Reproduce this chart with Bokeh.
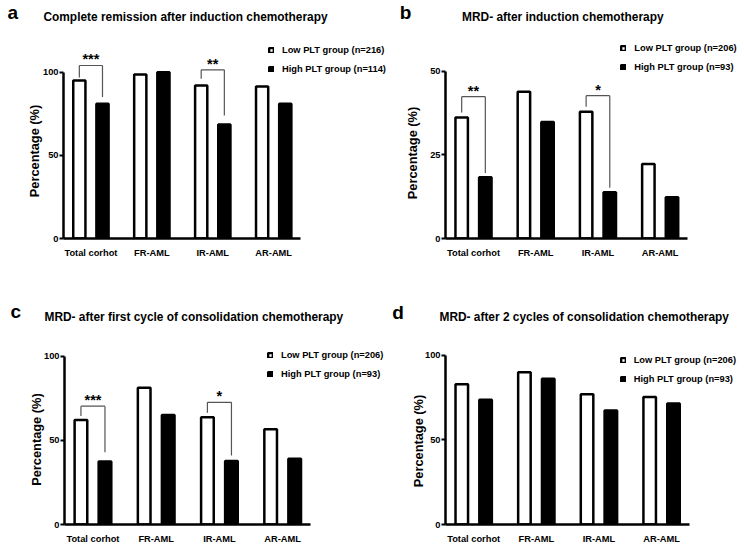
from bokeh.plotting import figure
from bokeh.models import ColumnDataSource, Label, Legend, LegendItem, FixedTicker, Title
from bokeh.transform import dodge
from bokeh.layouts import column, row
from bokeh.core.properties import value
from bokeh.embed import file_html
from bokeh.resources import INLINE

# ---- data ----
categories = ["Total corhot", "FR-AML", "IR-AML", "AR-AML"]

cr_low = [95.0, 98.6, 92.0, 91.4]
cr_high = [81.0, 100.0, 68.6, 81.0]

mrd_ind_low = [36.2, 43.9, 37.9, 22.3]
mrd_ind_high = [18.3, 34.8, 13.8, 12.3]

mrd_c1_low = [62.1, 81.3, 63.7, 56.6]
mrd_c1_high = [37.5, 65.0, 37.7, 39.1]

mrd_c2_low = [82.9, 90.1, 77.0, 75.4]
mrd_c2_high = [73.8, 86.2, 67.5, 71.6]

# significance brackets: category, bracket top, end of left leg, end of right leg, stars
sig_a_cat = ["Total corhot", "IR-AML"]
sig_a_top = [104.0, 101.4]
sig_a_low_end = [96.8, 96.0]
sig_a_high_end = [85.0, 74.0]
sig_a_stars = ["***", "**"]

sig_b_cat = ["Total corhot", "IR-AML"]
sig_b_top = [42.4, 42.7]
sig_b_low_end = [37.7, 39.4]
sig_b_high_end = [19.6, 15.2]
sig_b_stars = ["**", "*"]

sig_c_cat = ["Total corhot", "IR-AML"]
sig_c_top = [70.3, 72.6]
sig_c_low_end = [64.4, 66.4]
sig_c_high_end = [43.0, 41.0]
sig_c_stars = ["***", "*"]

FONT = "Liberation Sans"
OFF = 0.19         # bar offset inside a group
BW = 0.2           # bar width
X0, X1 = -0.45, 3.44   # extent of the x axis line
TITLE_H = 8        # shift for the letter, which sits above the title in the "above" stack
TITLE_DY = 3.5
AXIS_W = {"100": 24.0, "50": 18.5}   # rough width of the y axis panel


def panel(letter, title, low, high, n_low, n_high, y_max, sig, box, geo):
    ox, oy, pw, ph = box
    left, right, y0, y_tick_px, top, letter_xy, title_xy, legend_xy, ylab = geo
    # to panel coordinates
    left, right, y0, y_tick_px, top = left - ox, right - ox, y0 - oy, y_tick_px - oy, top - oy
    y_end = y_max * (y0 - top) / (y0 - y_tick_px)
    unit = (right - left) / (X1 - X0)
    frame_r = pw - 1
    x_end = X0 + (frame_r - left) / unit
    pos = {c: i for i, c in enumerate(categories)}

    p = figure(width=pw, height=ph, x_range=(X0, x_end), y_range=(0, y_end),
               output_backend="svg", toolbar_location=None,
               min_border_left=round(left), min_border_right=pw - frame_r,
               min_border_top=round(top), min_border_bottom=round(ph - y0))
    p.outline_line_color = None
    p.xgrid.grid_line_color = None
    p.ygrid.grid_line_color = None

    src = ColumnDataSource(data=dict(cat=categories, pos=[pos[c] for c in categories],
                                     low=low, high=high))
    r_lo = p.vbar(x=dodge("pos", -OFF), top="low", width=BW, source=src,
                  fill_color="white", line_color="black", line_width=2.5)
    r_hi = p.vbar(x=dodge("pos", OFF), top="high", width=BW, source=src,
                  fill_color="black", line_color="black", line_width=2.5)

    if sig is not None:
        cat, s_top, s_low, s_high, stars = sig
        bs = ColumnDataSource(data=dict(pos=[pos[c] for c in cat], top=s_top, low_end=s_low,
                                        high_end=s_high, stars=stars))
        xl = dodge("pos", -OFF)
        xr = dodge("pos", OFF)
        kw = dict(source=bs, line_color="#555555", line_width=1.2)
        p.segment(x0=xl, y0="low_end", x1=xl, y1="top", **kw)
        p.segment(x0=xl, y0="top", x1=xr, y1="top", **kw)
        p.segment(x0=xr, y0="top", x1=xr, y1="high_end", **kw)
        p.text(x="pos", y="top", text="stars", source=bs, y_offset=-6,
               text_align="center", text_baseline="middle",
               text_font=value(FONT), text_font_style="bold", text_font_size="14.5px",
               text_color="black")

    # axes
    p.xaxis.ticker = FixedTicker(ticks=list(pos.values()))
    p.xaxis.major_label_overrides = {i: c for c, i in pos.items()}
    p.xaxis.bounds = (X0, X1)
    p.xaxis.axis_line_width = 2.5
    p.xaxis.axis_line_color = "black"
    p.xaxis.major_tick_line_color = None
    p.xaxis.minor_tick_line_color = None
    p.xaxis.major_label_text_font = FONT
    p.xaxis.major_label_text_font_style = "bold"
    p.xaxis.major_label_text_font_size = "9.3px"
    p.xaxis.major_label_text_color = "black"
    p.xaxis.major_label_standoff = 3

    p.yaxis.ticker = FixedTicker(ticks=[0, y_max / 2, y_max])
    p.yaxis.bounds = (0, y_max)
    p.yaxis.axis_line_width = 2.5
    p.yaxis.axis_line_color = "black"
    p.yaxis.major_tick_out = 4
    p.yaxis.major_tick_in = 0
    p.yaxis.major_tick_line_width = 2
    p.yaxis.minor_tick_line_color = None
    p.yaxis.major_label_text_font = FONT
    p.yaxis.major_label_text_font_style = "bold"
    p.yaxis.major_label_text_font_size = "9.3px"
    p.yaxis.major_label_text_color = "black"
    p.yaxis.major_label_standoff = 1

    # y axis title: a vertical Title next to the axis, started at a set height
    ylab_x, ylab_start = ylab
    dist = left - (ylab_x - ox)
    stand = round(2 * (dist - AXIS_W[str(y_max)]) - 17)
    p.add_layout(Title(text="Percentage  (%)", align="left", vertical_align="middle",
                       offset=y0 - (ylab_start - oy), standoff=stand,
                       text_font=FONT, text_font_style="bold", text_font_size="12.8px",
                       text_color="black"), "left")

    # title (nearest the frame) and panel letter, in the space above the frame
    tx, ty = title_xy
    p.add_layout(Label(x=tx - ox - left, y=top - (ty - oy) + TITLE_DY, x_units="screen", y_units="screen",
                       text=title, text_font=FONT, text_font_style="bold", text_color="black",
                       text_font_size="11.9px", text_baseline="alphabetic", text_align="center"),
                 "above")
    lx, ly = letter_xy
    p.add_layout(Label(x=lx - ox - left, y=top - (ly - oy) - TITLE_H, x_units="screen", y_units="screen",
                       text=letter, text_font=FONT, text_font_style="bold", text_color="black",
                       text_font_size="19px", text_baseline="alphabetic", text_align="left"),
                 "above")

    # legend
    gx, gy = legend_xy
    leg_top = (y0 - (gy - oy)) + 5.5
    legend = Legend(items=[LegendItem(label=f"Low PLT group (n={n_low})", renderers=[r_lo]),
                           LegendItem(label=f"High PLT group (n={n_high})", renderers=[r_hi])],
                    location=(gx - ox - left, leg_top - 30),
                    glyph_width=6, glyph_height=6, label_height=11, label_standoff=8,
                    spacing=8, padding=0, margin=0,
                    background_fill_alpha=0, border_line_alpha=0,
                    label_text_font=FONT, label_text_font_style="bold",
                    label_text_font_size="9.3px", label_text_color="black")
    p.add_layout(legend)
    return p


# geometry in reference pixels: frame left/right, y=0 line, top tick line, frame top,
# letter baseline, title centre/baseline, legend square left/first row,
# y title centre x / lower end
pa = panel("a", "Complete remission after induction chemotherapy", cr_low, cr_high, 216, 114, 100,
           (sig_a_cat, sig_a_top, sig_a_low_end, sig_a_high_end, sig_a_stars),
           (0, 0, 390, 274),
           (63, 300, 238.3, 71.7, 35, (7, 18), (185, 20), (268, 50), (34, 197)))
pb = panel("b", "MRD- after induction chemotherapy", mrd_ind_low, mrd_ind_high, 206, 93, 50,
           (sig_b_cat, sig_b_top, sig_b_low_end, sig_b_high_end, sig_b_stars),
           (390, 0, 352, 274),
           (444.7, 687, 239.3, 71, 35, (399, 18), (562, 20), (620, 49.5), (411.3, 200)))
pc = panel("c", "MRD- after first cycle  of consolidation chemotherapy", mrd_c1_low, mrd_c1_high, 206, 93, 100,
           (sig_c_cat, sig_c_top, sig_c_low_end, sig_c_high_end, sig_c_stars),
           (0, 274, 390, 274),
           (64, 310, 526.7, 356, 335, (10, 317), (195, 320), (267, 357.5), (36, 488)))
pd_ = panel("d", "MRD- after 2 cycles of consolidation chemotherapy", mrd_c2_low, mrd_c2_high, 206, 93, 100,
            None,
            (390, 274, 352, 274),
            (445.3, 688.7, 524.3, 355, 335, (392, 318), (584, 320), (620, 360), (417.8, 487)))

layout = column(row(pa, pb), row(pc, pd_))
open("out.html", "w").write(file_html(layout, INLINE))
